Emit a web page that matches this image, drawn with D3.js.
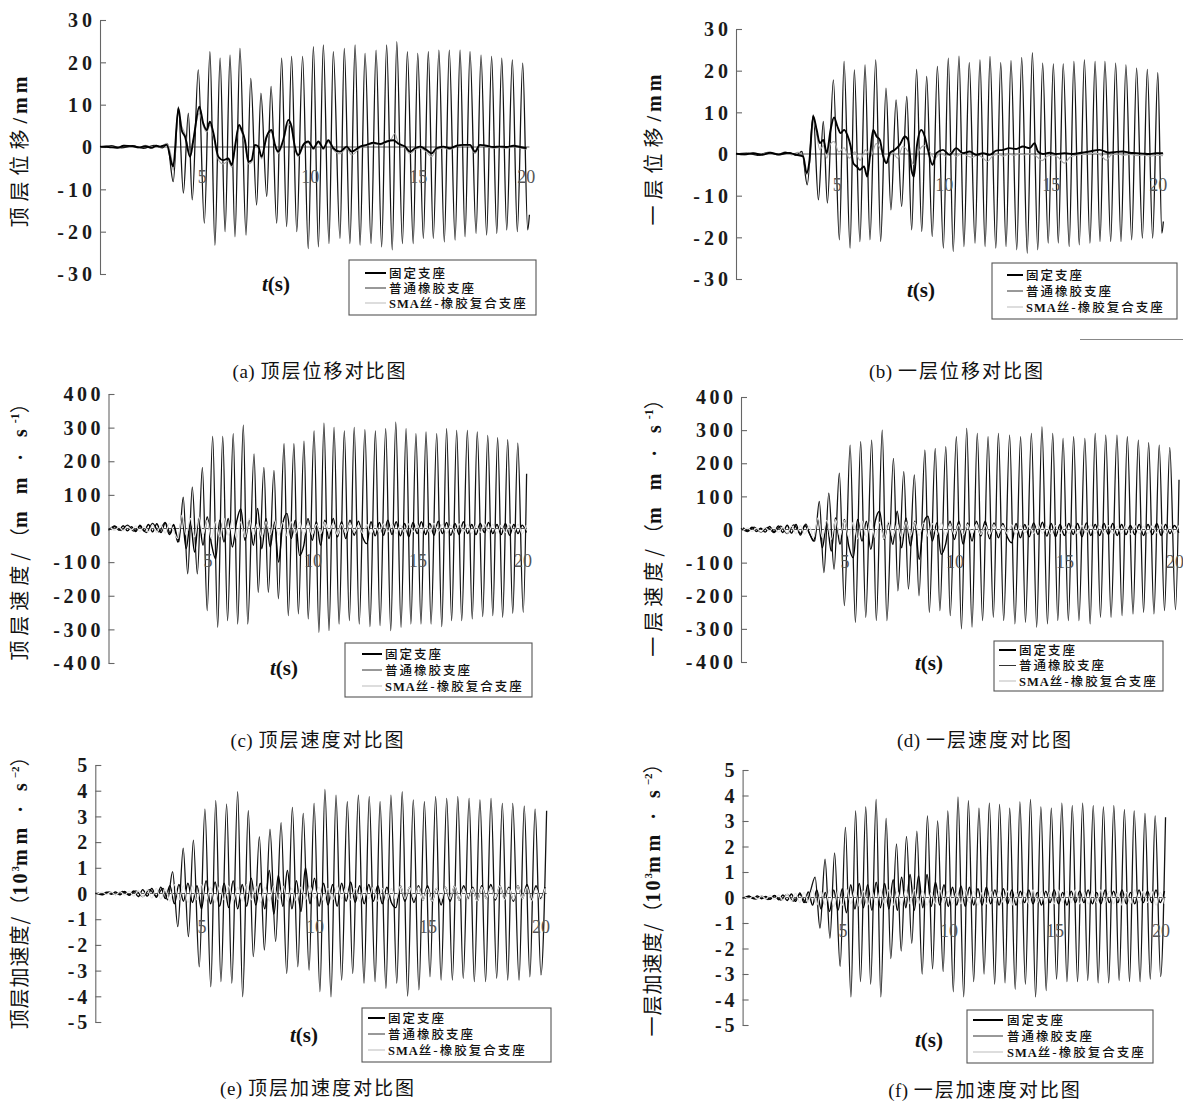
<!DOCTYPE html>
<html><head><meta charset="utf-8">
<script src="https://cdn.jsdelivr.net/npm/d3@7"></script>
<style>body{margin:0;background:#fff}svg{display:block}</style>
</head><body>
<svg id="chart" width="1183" height="1101"></svg>
<script>
// ================= DATA =================
const legendLabels = ["固定支座", "普通橡胶支座", "SMA丝-橡胶复合支座"];
const xTickValues = [5, 10, 15, 20];
const dispTicks = [-30, -20, -10, 0, 10, 20, 30];
const velTicks = [-400, -300, -200, -100, 0, 100, 200, 300, 400];
const accTicks = [-5, -4, -3, -2, -1, 0, 1, 2, 3, 4, 5];
// uniform sample times for the noisy small-amplitude records (s)
const noiseTimes = d3.range(0.6, 20.41, 0.2);

// (a) top-floor displacement (mm)
const aRubber = [[0.5,0],[1.0,0.3],[1.5,-0.2],[2.0,0.3],[2.5,-0.3],[3.0,0.4],[3.4,-0.2],[3.62,0.8],
[3.89,-8.2],[4.13,9.5],[4.36,-10.9],[4.59,8.0],[4.77,-12.5],[5.05,18.2],[5.33,-18.0],[5.59,22.5],[5.82,-23.2],[6.06,21.0],[6.29,-20.0],[6.52,21.7],[6.75,-21.2],[6.98,23.3],[7.26,-20.8],[7.48,16.2],[7.75,-13.7],[7.95,12.7],[8.22,-11.7],[8.42,14.3],[8.68,-18.0],[8.91,21.0],[9.14,-18.8],[9.37,21.4],[9.61,-20.0],[9.88,21.4],[10.14,-24.0],[10.38,23.7],[10.61,-23.6],[10.84,24.1],[11.10,-22.8],[11.30,22.5],[11.61,-21.6],[11.81,23.3],[12.07,-22.8],[12.31,24.1],[12.54,-23.2],[12.77,22.1],[13.05,-22.8],[13.28,22.9],[13.54,-23.6],[13.77,24.1],[14.03,-24.3],[14.24,24.9],[14.50,-22.8],[14.73,22.5],[15.00,-22.8],[15.21,22.1],[15.47,-21.6],[15.70,22.5],[15.93,-21.6],[16.19,22.9],[16.44,-22.4],[16.67,22.9],[16.94,-22.0],[17.17,22.9],[17.40,-21.2],[17.63,22.5],[17.91,-20.4],[18.14,21.7],[18.40,-20.8],[18.63,21.4],[18.87,-20.4],[19.10,21.0],[19.33,-19.6],[19.59,20.6],[19.82,-20.0],[20.07,19.8],[20.30,-19.6],[20.38,-16.0]];
const aFixed = [[0.5,0.1],[0.9,0],[1.3,-0.2],[1.6,0.3],[2.0,0.2],[2.3,-0.1],[2.6,0.2],[2.9,-0.2],[3.1,0.3],[3.28,0.1],[3.59,0.5],[3.82,-3.9],[3.89,-4.6],[4.13,9.1],[4.28,4.0],[4.44,2.4],[4.67,-2.3],[4.82,1.6],[5.10,9.5],[5.28,5.6],[5.44,4.0],[5.59,6.0],[5.75,3.3],[5.98,-2.3],[6.21,-3.1],[6.44,-2.7],[6.60,-4.3],[6.75,0.1],[6.94,5.2],[7.06,4.0],[7.21,1.6],[7.37,-3.5],[7.52,-3.1],[7.67,0.5],[7.83,0.1],[7.98,-2.3],[8.21,2.4],[8.44,4.0],[8.60,0.5],[8.75,-1.1],[8.98,1.6],[9.22,6.4],[9.37,4.8],[9.52,0.1],[9.68,-1.9],[9.91,0.5],[10.14,1.3],[10.38,-0.3],[10.61,1.3],[10.84,-0.3],[11.07,1.6],[11.30,-0.3],[11.61,-1.1],[11.92,0.1],[12.15,-1.1],[12.54,0.1],[12.85,0.5],[13.16,1.0],[13.47,0.7],[13.77,1.3],[14.08,1.6],[14.31,0.8],[14.62,0.1],[14.85,-1.1],[15.08,-0.3],[15.31,0.1],[15.62,-0.7],[15.85,-1.5],[16.08,-0.3],[16.39,0.1],[16.70,-0.3],[17.01,0.3],[17.32,0.5],[17.63,0.5],[17.86,-1.1],[18.09,0.5],[18.40,0.3],[18.71,0],[19.02,0.1],[19.33,0],[19.64,0.3],[19.95,0],[20.25,-0.3]];
const aSma = [[0.5,0],[0.9,0.2],[1.3,-0.3],[1.6,0.4],[2.0,0.1],[2.3,-0.2],[2.6,0.4],[2.9,-0.1],[3.1,0.4],[3.3,0],[3.59,0.9],[3.82,-3.0],[3.89,-5.5],[4.13,8.0],[4.28,5.0],[4.44,3.0],[4.67,-1.5],[4.82,2.0],[5.10,8.0],[5.28,5.0],[5.44,3.5],[5.59,5.2],[5.75,2.5],[5.98,-3.0],[6.21,-4.0],[6.44,-3.3],[6.60,-4.8],[6.75,-0.5],[6.94,4.5],[7.06,3.5],[7.21,1.0],[7.37,-4.0],[7.52,-3.6],[7.67,0.2],[7.83,-0.3],[7.98,-2.8],[8.21,2.0],[8.44,3.5],[8.60,0.2],[8.75,-1.5],[8.98,1.2],[9.22,5.5],[9.37,4.3],[9.52,-0.3],[9.68,-2.3],[9.91,0.2],[10.14,1.0],[10.38,-0.6],[10.61,1.0],[10.84,-0.6],[11.07,1.2],[11.30,-0.6],[11.61,-1.6],[11.92,-0.2],[12.15,-1.9],[12.54,-0.2],[12.85,0.3],[13.16,0.8],[13.47,0.5],[13.77,1.2],[14.00,2.0],[14.15,3.2],[14.31,1.0],[14.62,-0.2],[14.85,-1.6],[15.08,-0.6],[15.31,-0.2],[15.62,-1.2],[15.85,-2.3],[16.08,-0.6],[16.39,-0.2],[16.70,-0.6],[17.01,0.1],[17.32,0.3],[17.63,0.2],[17.86,-1.5],[18.09,0.2],[18.40,0],[18.71,-0.3],[19.02,-0.1],[19.33,-0.3],[19.64,0.1],[19.95,-0.2],[20.25,-0.5]];

// (b) first-floor displacement (mm)
const bRubber = [[0.5,0],[1.0,0.2],[1.5,-0.3],[2.0,0.4],[2.5,-0.2],[3.0,0.3],[3.3,-0.3],[3.58,0.6],
[3.83,-7.4],[4.11,9.4],[4.35,-11.0],[4.58,7.8],[4.77,-11.8],[5.05,17.8],[5.33,-20.6],[5.55,22.2],[5.83,-22.6],[6.03,20.2],[6.29,-21.0],[6.53,21.4],[6.76,-20.6],[7.03,22.6],[7.26,-21.0],[7.51,15.8],[7.74,-13.4],[7.98,13.0],[8.24,-12.6],[8.48,13.8],[8.71,-18.2],[8.94,20.3],[9.18,-18.6],[9.41,18.6],[9.67,-19.8],[9.91,21.0],[10.19,-22.6],[10.42,23.0],[10.65,-23.4],[10.92,23.5],[11.15,-22.2],[11.40,21.9],[11.67,-21.4],[11.90,22.6],[12.14,-22.2],[12.37,23.4],[12.64,-22.6],[12.87,21.9],[13.12,-22.2],[13.35,22.4],[13.62,-23.0],[13.85,23.2],[14.11,-23.8],[14.35,24.3],[14.60,-23.0],[14.83,21.8],[15.09,-21.4],[15.33,21.6],[15.56,-21.4],[15.79,21.6],[16.07,-22.2],[16.29,22.2],[16.54,-21.8],[16.78,22.6],[17.04,-21.4],[17.28,22.2],[17.51,-21.0],[17.74,22.2],[18.01,-21.0],[18.24,21.8],[18.49,-21.0],[18.72,21.4],[18.99,-20.6],[19.22,20.6],[19.49,-20.2],[19.72,20.3],[19.97,-20.2],[20.21,19.5],[20.40,-19.0],[20.47,-16.2]];
const bFixed = [[0.5,0.1],[0.9,-0.1],[1.3,0.2],[1.7,-0.2],[2.1,0.3],[2.5,-0.1],[2.8,0.3],[3.02,0.2],[3.33,-0.2],[3.64,-0.6],[3.80,-4.6],[3.92,-2.2],[4.11,9.1],[4.27,5.8],[4.42,2.6],[4.58,3.4],[4.74,0.2],[4.92,5.8],[5.08,8.8],[5.24,6.6],[5.39,5.0],[5.55,5.8],[5.70,4.6],[5.86,1.8],[5.98,-2.2],[6.14,-3.0],[6.29,-3.8],[6.48,-3.0],[6.63,-5.4],[6.76,-0.6],[6.91,5.8],[7.07,4.2],[7.22,3.4],[7.38,-0.6],[7.53,-2.2],[7.69,0.2],[7.92,1.0],[8.15,2.2],[8.39,4.2],[8.54,3.4],[8.70,-3.8],[8.81,-5.4],[8.96,2.2],[9.16,5.8],[9.32,4.2],[9.47,1.0],[9.68,-2.6],[9.86,0.2],[10.17,1.0],[10.48,-0.2],[10.79,1.4],[11.10,0.2],[11.42,0.6],[11.73,-0.2],[12.04,0.2],[12.35,-0.2],[12.66,0.8],[12.97,1.0],[13.28,1.4],[13.59,1.2],[13.91,1.8],[14.22,1.4],[14.45,2.6],[14.61,0.6],[14.84,0],[15.15,0.3],[15.46,0],[15.85,0.2],[16.24,0],[16.63,0.3],[17.02,0.6],[17.49,1.0],[17.95,0.3],[18.27,0.5],[18.58,0.6],[18.89,0.3],[19.20,0.2],[19.51,0.1],[19.82,0],[20.13,0.2],[20.45,0.2]];
const bSma = [[0.5,0.1],[0.9,-0.2],[1.3,0.3],[1.7,-0.1],[2.1,0.4],[2.5,0],[2.8,0.5],[3.1,-0.2],[3.4,0.4],[3.64,-0.8],[3.80,-5.0],[3.92,-3.0],[4.11,8.5],[4.27,4.5],[4.42,1.0],[4.58,2.0],[4.74,-1.0],[4.92,2.5],[5.08,3.0],[5.30,0.5],[5.55,1.5],[5.80,-1.0],[6.05,0.5],[6.30,-1.5],[6.55,1.0],[6.80,-0.5],[7.05,2.5],[7.30,0.8],[7.55,-1.8],[7.80,0.5],[8.05,-1.0],[8.30,1.8],[8.55,0.5],[8.80,-2.5],[9.05,0.8],[9.30,2.0],[9.55,0.5],[9.80,-1.0],[10.05,0.3],[10.30,-0.5],[10.55,0.4],[10.80,-0.6],[11.05,0.2],[11.30,-0.4],[11.55,-0.8],[11.80,-0.2],[12.05,-1.0],[12.25,-1.8],[12.50,-0.4],[12.75,-0.1],[13.00,-0.5],[13.25,0],[13.50,-0.3],[13.75,0.1],[14.00,-0.2],[14.25,0.1],[14.50,-0.4],[14.80,-1.6],[15.05,-0.5],[15.30,-0.3],[15.55,-0.8],[15.85,-2.2],[16.10,-0.8],[16.40,-0.3],[16.70,-0.1],[17.00,0],[17.30,0.2],[17.55,-0.3],[17.80,-1.5],[18.05,-0.2],[18.35,0],[18.65,-0.3],[18.95,-0.1],[19.25,-0.4],[19.55,-0.2],[19.85,-0.5],[20.15,-0.3],[20.45,-0.4]];

// (c) top-floor velocity (mm/s)
const cRubber = [[0.5,-5],[0.8,8],[1.1,-6],[1.4,10],[1.7,-8],[2.0,6],[2.3,-12],[2.6,15],[2.9,-10],[3.2,18],[3.45,-15],[3.6,12],
[3.85,-40],[4.06,93],[4.27,-135],[4.49,123],[4.73,-135],[4.97,182],[5.20,-244],[5.46,274],[5.70,-294],[5.94,274],[6.17,-274],[6.44,282],[6.65,-284],[6.92,307],[7.13,-284],[7.43,222],[7.63,-190],[7.90,182],[8.11,-190],[8.38,173],[8.59,-209],[8.86,252],[9.06,-259],[9.33,252],[9.54,-254],[9.81,260],[10.01,-269],[10.29,290],[10.52,-309],[10.76,313],[11.00,-304],[11.24,301],[11.48,-284],[11.73,290],[11.97,-274],[12.20,301],[12.44,-284],[12.71,294],[12.95,-292],[13.21,290],[13.43,-289],[13.70,297],[13.94,-304],[14.18,316],[14.43,-294],[14.67,297],[14.90,-284],[15.14,282],[15.38,-284],[15.62,287],[15.86,-284],[16.13,282],[16.37,-292],[16.60,297],[16.84,-274],[17.08,292],[17.32,-274],[17.59,292],[17.82,-269],[18.06,287],[18.32,-262],[18.56,277],[18.80,-259],[19.03,270],[19.27,-264],[19.51,264],[19.75,-252],[19.99,254],[20.25,-249],[20.41,163]];
const cFixed = [-4,6,-5,8,-7,5,-9,10,-8,12,
-10,14,-12,16,-18,10,-40,35,-60,20,
-70,30,-50,35,-45,-90,25,-40,30,-55,
20,58,-35,25,-50,60,-60,30,-55,20,
-100,15,45,-30,25,-80,-50,30,-35,20,
-50,25,-30,30,-25,20,-30,25,-20,22,
-25,-45,20,-22,18,-20,25,-18,20,-22,
15,-25,18,-15,20,-18,15,-20,22,-15,
18,-20,15,-18,20,-15,12,-18,15,-12,
18,-15,12,-18,15,-20,12,-15,10,-12];
const cSma = [3,-6,5,-7,6,-4,8,-9,7,-10,
9,-12,10,-14,15,-8,-30,40,-20,30,
-25,35,-20,25,-30,20,-25,30,-20,25,
-30,20,-25,30,-20,15,-25,20,-18,25,
-20,18,-22,20,-15,18,-20,15,-18,12,
-15,18,-12,15,-18,12,-14,16,-12,10,
-14,12,-16,10,-12,14,-10,12,-15,10,
-12,14,-10,12,-14,10,-12,15,-10,12,
-14,10,-12,14,-10,12,-15,10,-12,14,
-10,12,-14,10,-12,14,-10,12,-15,10];

// (d) first-floor velocity (mm/s)
const dRubber = [[0.5,4],[0.8,-6],[1.1,7],[1.4,-8],[1.7,6],[2.0,-9],[2.3,10],[2.6,-12],[2.9,14],[3.2,-12],[3.45,16],[3.6,-10],
[3.85,-35],[4.06,85],[4.27,-130],[4.49,110],[4.73,-120],[4.97,170],[5.20,-230],[5.46,255],[5.70,-280],[5.94,265],[6.17,-265],[6.44,270],[6.65,-275],[6.92,300],[7.13,-275],[7.43,215],[7.63,-185],[7.90,175],[8.11,-180],[8.38,165],[8.59,-200],[8.86,240],[9.06,-250],[9.33,245],[9.54,-245],[9.81,250],[10.01,-260],[10.29,280],[10.52,-300],[10.76,305],[11.00,-295],[11.24,290],[11.48,-275],[11.73,280],[11.97,-265],[12.20,290],[12.44,-275],[12.71,285],[12.95,-285],[13.21,280],[13.43,-280],[13.70,290],[13.94,-295],[14.18,310],[14.43,-285],[14.67,290],[14.90,-275],[15.14,275],[15.38,-275],[15.62,280],[15.86,-275],[16.13,275],[16.37,-285],[16.60,290],[16.84,-265],[17.08,285],[17.32,-265],[17.59,285],[17.82,-260],[18.06,280],[18.32,-255],[18.56,270],[18.80,-250],[19.03,262],[19.27,-255],[19.51,255],[19.75,-245],[19.99,248],[20.25,-242],[20.41,150]];
const dFixed = [5,-4,7,-6,4,-8,9,-7,11,-9,
13,-11,15,-17,12,-10,-35,30,-55,25,
-65,35,-45,30,-50,-85,30,-35,25,-60,
25,55,-30,20,-45,55,-55,35,-50,25,
-90,20,40,-35,20,-75,-45,25,-30,25,
-45,20,-35,25,-20,25,-28,20,-25,18,
-22,-40,18,-25,15,-22,20,-15,22,-20,
18,-22,15,-18,18,-15,18,-22,20,-18,
15,-18,18,-15,18,-18,15,-15,12,-15,
15,-18,15,-15,18,-18,15,-12,12,-10];
const dSma = [-3,5,-6,4,-7,6,-5,8,-9,7,
-11,10,-13,12,-14,10,-25,35,-25,28,
-30,30,-22,28,-25,22,-28,25,-22,28,
-25,22,-28,25,-22,18,-22,22,-20,22,
-18,20,-20,18,-16,20,-18,16,-15,14,
-16,15,-14,16,-15,12,-15,14,-12,12,
-12,14,-14,12,-10,12,-12,14,-12,10,
-14,12,-12,10,-12,12,-14,12,-10,14,
-12,12,-10,12,-12,10,-12,12,-14,12,
-12,10,-12,12,-10,14,-12,10,-12,12];

// (e) top-floor acceleration (10^3 mm/s^2)
const eRubber = [[0.5,0.02],[0.8,-0.05],[1.1,0.06],[1.4,-0.04],[1.7,0.08],[2.0,-0.07],[2.3,0.1],[2.6,-0.12],[2.9,0.15],[3.2,-0.1],[3.5,0.2],[3.7,-0.25],
[3.92,0.85],[4.15,-1.29],[4.39,1.76],[4.62,-1.68],[4.84,2.08],[5.10,-2.85],[5.35,3.28],[5.61,-3.63],[5.83,3.61],[6.06,-3.43],[6.31,3.48],[6.54,-3.49],[6.80,3.96],[7.02,-4.02],[7.27,3.22],[7.49,-2.46],[7.76,2.21],[7.98,-2.20],[8.23,2.50],[8.48,-1.87],[8.72,2.76],[8.97,-3.11],[9.22,3.35],[9.46,-2.85],[9.70,3.12],[9.96,-2.98],[10.18,3.51],[10.44,-3.82],[10.66,4.05],[10.93,-4.02],[11.15,3.83],[11.40,-3.37],[11.65,3.57],[11.89,-3.11],[12.14,3.83],[12.39,-3.49],[12.62,3.77],[12.88,-3.43],[13.10,3.57],[13.36,-3.69],[13.58,3.83],[13.84,-3.49],[14.08,3.96],[14.32,-3.99],[14.57,3.64],[14.82,-3.75],[15.06,3.57],[15.31,-3.24],[15.56,3.77],[15.80,-3.37],[16.05,3.70],[16.30,-3.37],[16.54,3.77],[16.78,-3.30],[17.04,3.70],[17.27,-3.43],[17.52,3.64],[17.77,-3.43],[18.01,3.70],[18.26,-3.30],[18.51,3.51],[18.75,-3.37],[18.97,3.51],[19.25,-3.37],[19.48,3.40],[19.73,-3.24],[19.96,3.28],[20.22,-3.17],[20.47,3.22]];
const eFixed = [0.03,-0.04,0.05,-0.03,0.06,-0.05,0.08,-0.06,0.1,-0.12,
0.15,-0.1,0.2,-0.15,0.25,-0.2,0.3,-0.4,0.35,-0.3,
0.4,-0.35,0.3,-0.6,0.5,-0.4,0.45,-0.5,0.4,-0.55,
0.5,-0.6,0.35,-0.5,0.6,-0.45,0.4,-0.6,0.9,-0.8,
0.7,-0.5,0.9,-0.6,0.5,-0.7,1.0,-0.4,0.6,-0.5,
0.4,-0.45,0.35,-0.5,0.4,-0.3,0.45,-0.35,0.3,-0.4,
0.35,-0.3,0.3,-0.4,0.25,-0.35,-0.55,0.3,-0.3,0.25,
-0.35,0.3,-0.25,0.3,-0.3,0.2,-0.45,0.25,-0.3,0.3,
-0.25,0.3,-0.2,0.25,-0.3,0.3,-0.2,0.35,-0.25,0.3,
-0.2,0.25,-0.3,0.3,-0.2,0.35,-0.25,0.3,-0.2,0.25];
const eSma = [-0.02,0.05,-0.04,0.06,-0.05,0.07,-0.06,0.09,-0.1,0.12,
-0.13,0.15,-0.18,0.2,-0.22,0.18,-0.3,0.35,-0.25,0.3,
-0.35,0.3,-0.25,0.35,-0.3,0.25,-0.35,0.3,-0.25,0.3,
-0.3,0.25,-0.3,0.35,-0.25,0.3,-0.35,0.25,-0.3,0.3,
-0.25,0.3,-0.3,0.2,-0.3,0.25,-0.25,0.3,-0.2,0.25,
-0.3,0.2,-0.25,0.3,-0.2,0.25,-0.25,0.2,-0.3,0.25,
-0.2,0.25,-0.3,0.2,-0.25,0.2,-0.25,0.3,-0.2,0.25,
-0.2,0.25,-0.25,0.2,-0.3,0.2,-0.25,0.25,-0.2,0.3,
-0.25,0.2,-0.25,0.2,-0.3,0.25,-0.2,0.25,-0.2,0.3,
-0.25,0.2,-0.25,0.3,-0.2,0.25,-0.3,0.2,-0.25,0.2];

// (f) first-floor acceleration (10^3 mm/s^2)
const fRubber = [[0.5,-0.03],[0.8,0.05],[1.1,-0.06],[1.4,0.05],[1.7,-0.08],[2.0,0.07],[2.3,-0.1],[2.6,0.12],[2.9,-0.14],[3.2,0.12],[3.5,-0.2],[3.7,0.25],
[3.92,0.8],[4.15,-1.2],[4.39,1.5],[4.62,-1.6],[4.84,1.75],[5.10,-2.7],[5.35,2.75],[5.61,-3.9],[5.83,3.4],[6.06,-3.3],[6.31,3.55],[6.54,-3.4],[6.80,3.85],[7.02,-3.9],[7.27,3.1],[7.49,-2.4],[7.76,2.1],[7.98,-2.1],[8.23,2.4],[8.48,-1.8],[8.72,2.6],[8.97,-3.0],[9.22,3.2],[9.46,-2.8],[9.70,3.0],[9.96,-2.9],[10.18,3.4],[10.44,-3.7],[10.66,3.95],[10.93,-3.9],[11.15,3.8],[11.40,-3.3],[11.65,3.5],[11.89,-3.0],[12.14,3.7],[12.39,-3.4],[12.62,3.65],[12.88,-3.35],[13.10,3.5],[13.36,-3.6],[13.58,3.75],[13.84,-3.4],[14.08,3.85],[14.32,-3.9],[14.57,3.55],[14.82,-3.65],[15.06,3.5],[15.31,-3.2],[15.56,3.7],[15.80,-3.3],[16.05,3.6],[16.30,-3.3],[16.54,3.7],[16.78,-3.25],[17.04,3.6],[17.27,-3.35],[17.52,3.55],[17.77,-3.35],[18.01,3.6],[18.26,-3.25],[18.51,3.45],[18.75,-3.3],[18.97,3.4],[19.25,-3.3],[19.48,3.3],[19.73,-3.2],[19.96,3.2],[20.22,-3.1],[20.45,3.15]];
const fFixed = [-0.03,0.05,-0.04,0.06,-0.05,0.04,-0.07,0.08,-0.09,0.1,
-0.12,0.14,-0.15,0.18,-0.2,0.22,-0.3,0.3,-0.45,0.2,
-0.55,0.3,-0.5,0.35,-0.6,0.5,-0.45,0.55,-0.4,0.5,
-0.5,0.6,-0.4,0.55,-0.45,0.7,-0.5,0.8,-0.4,0.9,
-0.5,0.85,-0.4,0.9,-0.35,0.6,-0.3,0.5,-0.35,0.4,
-0.3,0.45,-0.35,0.4,-0.3,0.35,-0.3,0.4,-0.25,0.3,
-0.3,0.35,-0.25,0.3,-0.3,0.25,-0.2,0.3,-0.25,0.2,
-0.3,0.25,-0.2,0.3,-0.25,0.2,-0.3,0.25,-0.2,0.25,
-0.2,0.3,-0.25,0.2,-0.25,0.3,-0.2,0.25,-0.2,0.3,
-0.25,0.2,-0.25,0.3,-0.2,0.25,-0.2,0.3,-0.2,0.25];
const fSma = [0.02,-0.04,0.05,-0.05,0.06,-0.06,0.08,-0.08,0.1,-0.11,
0.13,-0.14,0.16,-0.2,0.2,-0.18,0.3,-0.3,0.25,-0.3,
0.3,-0.35,0.25,-0.3,0.35,-0.25,0.3,-0.35,0.25,-0.3,
0.25,-0.3,0.3,-0.25,0.3,-0.3,0.25,-0.3,0.3,-0.25,
0.3,-0.25,0.25,-0.3,0.2,-0.25,0.3,-0.2,0.25,-0.25,
0.2,-0.25,0.3,-0.2,0.25,-0.3,0.2,-0.25,0.25,-0.2,
0.25,-0.2,0.25,-0.3,0.2,-0.25,0.2,-0.25,0.3,-0.2,
0.25,-0.25,0.2,-0.25,0.3,-0.2,0.25,-0.2,0.3,-0.25,
0.2,-0.25,0.25,-0.2,0.3,-0.2,0.25,-0.25,0.2,-0.3,
0.2,-0.25,0.3,-0.2,0.25,-0.2,0.25,-0.3,0.2,-0.25];

// ================= DRAWING =================
const svg = d3.select('#chart');
const SERIF = "'Liberation Serif','DejaVu Serif',serif";
const CJK = "'Noto Sans CJK SC','Noto Sans CJK JP',sans-serif";

function zipNoise(vals) { return vals.map((v, i) => [noiseTimes[i], v]); }

function rich(g, x, y, segs, o) {
  const t = g.append('text').attr('x', x).attr('y', y)
    .attr('text-anchor', o.anchor || 'start').attr('fill', o.fill || '#111');
  if (o.rotate) t.attr('transform', `rotate(-90,${x},${y})`);
  segs.forEach(s => {
    const ts = t.append('tspan').text(s.t)
      .attr('font-family', s.f === 'c' ? CJK : SERIF)
      .attr('font-size', s.s || o.size)
      .attr('font-weight', s.w || o.weight || 'normal')
      .attr('font-style', s.i ? 'italic' : 'normal')
      .attr('letter-spacing', s.ls != null ? s.ls : (o.ls || 0));
    if (s.dy) ts.attr('dy', s.dy);
  });
  return t;
}

function drawPanel(p) {
  const g = svg.append('g');
  const x = d3.scaleLinear().domain([0.5, 20]).range([p.axisX, p.axisX + 19.5 * p.pps]);
  const y = d3.scaleLinear().domain([p.ticks[0], p.ticks[p.ticks.length - 1]]).range([p.yBottom, p.yTop]);

  // y axis (ticks point inward)
  const ax = g.append('g').attr('transform', `translate(${p.axisX},0)`)
    .call(d3.axisRight(y).tickValues(p.ticks).tickSize(6).tickSizeOuter(0).tickFormat(''));
  ax.select('.domain').attr('stroke', '#666').attr('stroke-width', 1.1);
  ax.selectAll('.tick line').attr('stroke', '#666').attr('stroke-width', 1.1);

  // y tick labels
  g.selectAll('.ylab').data(p.ticks).join('text')
    .attr('x', p.axisX - 8 + p.tickLs).attr('y', d => y(d))
    .attr('dy', '0.36em').attr('text-anchor', 'end')
    .attr('font-family', SERIF).attr('font-weight', 'bold')
    .attr('font-size', p.tickSize).attr('letter-spacing', p.tickLs).attr('fill', '#1a1a1a')
    .text(d => d);

  // zero line
  g.append('line').attr('x1', p.axisX).attr('x2', x(p.tEnd))
    .attr('y1', y(0)).attr('y2', y(0)).attr('stroke', '#444').attr('stroke-width', 0.9);

  const line = d3.line().x(d => x(d[0])).y(d => y(d[1])).curve(d3.curveMonotoneX);
  const draw = (data, color, w) => g.append('path').datum(data)
    .attr('d', line).attr('fill', 'none').attr('stroke', color)
    .attr('stroke-width', w).attr('stroke-linejoin', 'round');

  draw(p.rubber, '#141414', 1.3);
  if (p.kind === 'disp') {
    draw(p.sma, '#a8a8a8', 1.1);
    draw(p.fixed, '#000', 1.9);
  } else {
    draw(p.fixed, '#000', 1.4);
    draw(p.sma, '#e4e4e4', 1.2);
  }

  // x tick labels (placed below the zero line)
  g.selectAll('.xlab').data(xTickValues).join('text')
    .attr('x', d => x(d) + 5).attr('y', y(0) + p.xLabDy)
    .attr('dy', '0.36em').attr('text-anchor', 'middle')
    .attr('font-family', SERIF).attr('font-size', 18).attr('fill', '#555')
    .text(d => d);

  // t(s)
  rich(g, p.tLab[0], p.tLab[1], [{t: 't', i: true}, {t: '(s)'}], {size: 21, weight: 'bold'});

  // legend
  const L = p.legend;
  g.append('rect').attr('x', L.x).attr('y', L.y).attr('width', L.w).attr('height', L.h)
    .attr('fill', '#fff').attr('stroke', '#555').attr('stroke-width', 1.1);
  const styles = [['#000', 2], ['#333', 1], ['#bbb', 1]];
  legendLabels.forEach((lab, i) => {
    const yy = L.y + L.r0 + i * L.dr;
    g.append('line').attr('x1', L.x + L.l0).attr('x2', L.x + L.l1).attr('y1', yy).attr('y2', yy)
      .attr('stroke', styles[i][0]).attr('stroke-width', styles[i][1]);
    const segs = i === 2 ? [{t: 'SMA', w: 'bold', ls: 1}, {t: '丝-橡胶复合支座', f: 'c'}]
                         : [{t: lab, f: 'c'}];
    rich(g, L.x + L.tx, yy + 4.5, segs, {size: 12.5, ls: 2, weight: 500, fill: '#111'});
  });

  // y title (rotated)
  rich(g, p.yTitle[0], p.yTitle[1], p.yTitleSegs, {size: 20, anchor: 'middle', rotate: true, fill: '#111'});

  // caption
  rich(g, p.caption[0], p.caption[1], [{t: p.capLetter + ' ', ls: 0.5}, {t: p.capText, f: 'c', ls: 2}],
       {size: 19, anchor: 'middle', fill: '#111'});
}

const dispTitle = (floor) => [{t: floor + '位移', f: 'c', ls: 6}, {t: '/mm', w: 'bold', ls: 4}];
const velTitle = (floor) => [{t: floor + '速度/', f: 'c', ls: 5}, {t: '（', f: 'c'},
  {t: 'm m · s', w: 'bold', ls: 6}, {t: '-1', s: 12, dy: -8, w: 'bold', ls: 0}, {t: '）', f: 'c', dy: 8}];
const accTitle = (floor) => [{t: floor + '加速度/', f: 'c', ls: 1}, {t: '（', f: 'c'},
  {t: '10', w: 'bold', ls: 2}, {t: '3', s: 11, dy: -8, w: 'bold', ls: 0}, {t: 'mm · s', w: 'bold', ls: 5, dy: 8},
  {t: '−2', s: 11, dy: -8, w: 'bold', ls: 0}, {t: '）', f: 'c', dy: 8}];

const panels = [
  {kind: 'disp', rubber: aRubber, fixed: aFixed, sma: aSma, ticks: dispTicks,
   axisX: 100, pps: 21.6, tEnd: 20.38, yTop: 20, yBottom: 274, tickSize: 20, tickLs: 4, xLabDy: 30,
   tLab: [262, 291], legend: {x: 349, y: 260, w: 187, h: 55, r0: 13, dr: 15, l0: 16, l1: 37, tx: 40},
   yTitle: [27, 150], yTitleSegs: dispTitle('顶层'), caption: [320, 378], capLetter: '(a)', capText: '顶层位移对比图'},
  {kind: 'disp', rubber: bRubber, fixed: bFixed, sma: bSma, ticks: dispTicks,
   axisX: 736, pps: 21.4, tEnd: 20.47, yTop: 29, yBottom: 279, tickSize: 20, tickLs: 4, xLabDy: 31,
   tLab: [907, 297], legend: {x: 992, y: 263, w: 185, h: 56, r0: 12, dr: 16, l0: 15, l1: 31, tx: 34},
   yTitle: [661, 148], yTitleSegs: dispTitle('一层'), caption: [957, 378], capLetter: '(b)', capText: '一层位移对比图'},
  {kind: 'vel', rubber: cRubber, fixed: zipNoise(cFixed), sma: zipNoise(cSma), ticks: velTicks,
   axisX: 108.5, pps: 21, tEnd: 20.41, yTop: 394, yBottom: 663, tickSize: 20, tickLs: 3.5, xLabDy: 32,
   tLab: [270, 675], legend: {x: 345, y: 643, w: 187, h: 54, r0: 11, dr: 16, l0: 17, l1: 37, tx: 40},
   yTitle: [27, 527], yTitleSegs: velTitle('顶层'), caption: [318, 747], capLetter: '(c)', capText: '顶层速度对比图'},
  {kind: 'vel', rubber: dRubber, fixed: zipNoise(dFixed), sma: zipNoise(dSma), ticks: velTicks,
   axisX: 741, pps: 22, tEnd: 20.41, yTop: 397, yBottom: 662, tickSize: 20, tickLs: 3.5, xLabDy: 32,
   tLab: [915, 670], legend: {x: 994, y: 641, w: 169, h: 50, r0: 9, dr: 15.5, l0: 5, l1: 22, tx: 25},
   yTitle: [661, 523], yTitleSegs: velTitle('一层'), caption: [985, 747], capLetter: '(d)', capText: '一层速度对比图'},
  {kind: 'acc', rubber: eRubber, fixed: zipNoise(eFixed), sma: zipNoise(eSma), ticks: accTicks,
   axisX: 95.3, pps: 22.6, tEnd: 20.47, yTop: 765, yBottom: 1022, tickSize: 20, tickLs: 3, xLabDy: 33,
   tLab: [290, 1042], legend: {x: 362, y: 1008, w: 189, h: 54, r0: 10, dr: 16, l0: 6, l1: 23, tx: 26},
   yTitle: [27, 888], yTitleSegs: accTitle('顶层'), caption: [318, 1095], capLetter: '(e)', capText: '顶层加速度对比图'},
  {kind: 'acc', rubber: fRubber, fixed: zipNoise(fFixed), sma: zipNoise(fSma), ticks: accTicks,
   axisX: 742.6, pps: 21.2, tEnd: 20.45, yTop: 770, yBottom: 1025, tickSize: 20, tickLs: 3, xLabDy: 33,
   tLab: [915, 1047], legend: {x: 967, y: 1010, w: 186, h: 53, r0: 10, dr: 16, l0: 6, l1: 36, tx: 40},
   yTitle: [660, 895], yTitleSegs: accTitle('一层'), caption: [985, 1097], capLetter: '(f)', capText: '一层加速度对比图'}
];
panels.forEach(drawPanel);

// stray rule under panel (b)
svg.append('line').attr('x1', 1080).attr('x2', 1183).attr('y1', 339.5).attr('y2', 339.5)
  .attr('stroke', '#888').attr('stroke-width', 1);
</script>
</body></html>
